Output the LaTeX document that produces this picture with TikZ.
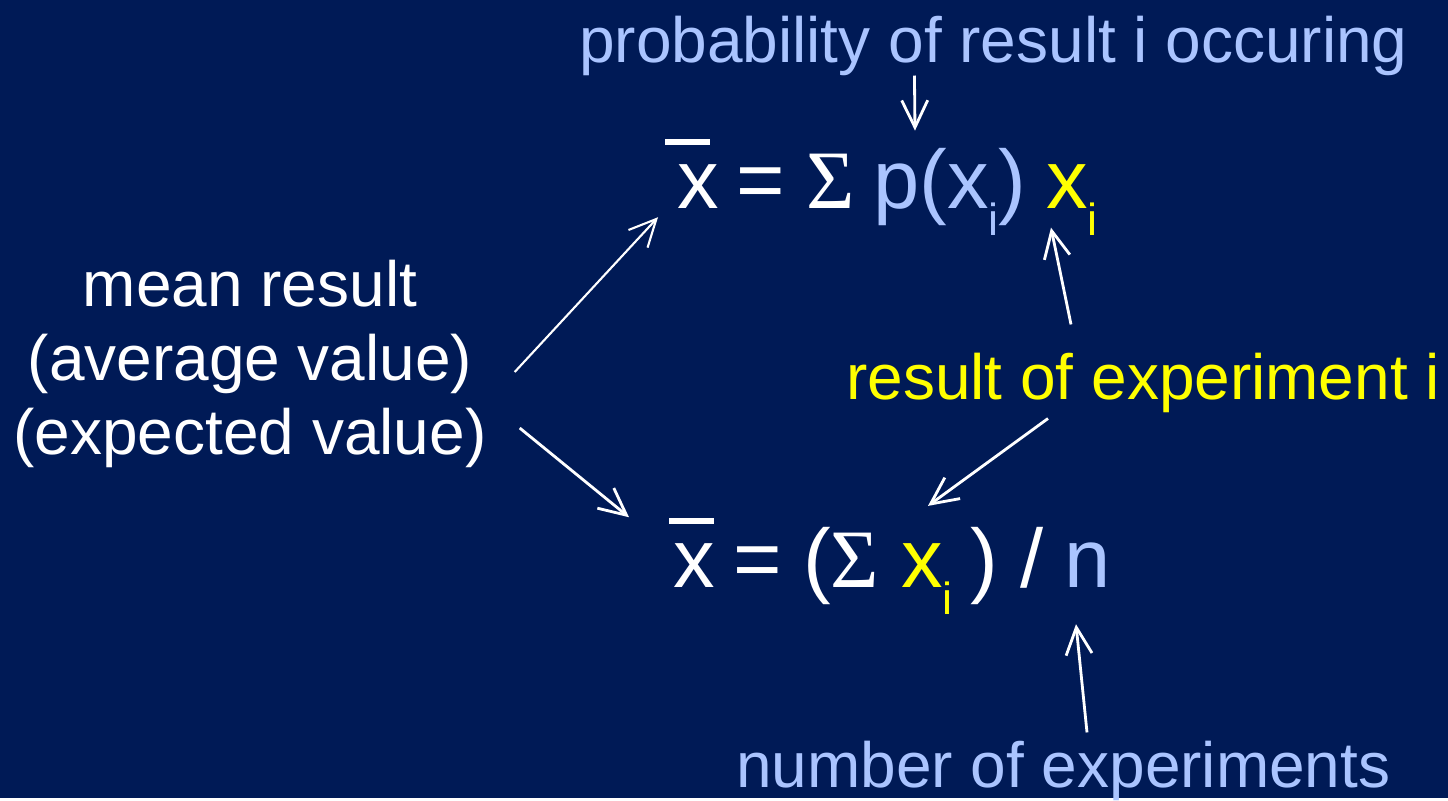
\documentclass[tikz,border=0pt]{standalone}
\usepackage{fontspec}
\setmainfont{Liberation Sans}
\newfontfamily\sigfont{Liberation Serif}
\usepackage{xcolor}
\usepackage{tikz}
\usetikzlibrary{arrows.meta, positioning}
\definecolor{bgblue}{RGB}{0,26,86}
\definecolor{lightblue}{RGB}{170,196,255}
\definecolor{hiyellow}{RGB}{255,255,0}
\newcommand\lowi[1]{\raisebox{-0.33em}{\fontsize{38.4}{38.4}\selectfont #1}}
\newcommand\barx[1]{\rlap{\kern#1\raisebox{0.76em}{\rule{0.54em}{0.065em}}}x}
\tikzset{
    bigtxt/.style={font=\fontsize{54.6}{63.2}\selectfont, inner sep=0pt},
    eqtxt/.style={font=\fontsize{70.9}{80}\selectfont, inner sep=0pt, anchor=base west},
    arrow/.style={-{Straight Barb[length=8.1mm, width=7.8mm]}, line width=2.4pt, white},
}
\begin{document}
\begin{tikzpicture}[x=0.03cm, y=-0.03cm]
    \fill[bgblue] (0,0) rectangle (1448,798);
    % left text
    \node[bigtxt, white, align=center] (mean) at (250,364) {mean result\\(average value)\\(expected value)};
    % upper formula
    \node[eqtxt, white] (xa) at (677,208) {\barx{-0.145em}};
    \node[eqtxt, white] (eqa) at (736,208) {=};
    \node[eqtxt, white] (sa) at (806,208) {\sigfont Σ};
    \node[eqtxt, lightblue] (pa) at (873,208) {p(x\lowi{i})};
    \node[eqtxt, hiyellow] (xia) at (1046,208) {x\lowi{i}};
    % lower formula
    \node[eqtxt, white] (xb) at (673,587) {\barx{-0.05em}};
    \node[eqtxt, white] (eqb) at (733,587) {=};
    \node[eqtxt, white] (sb) at (803,587) {({\sigfont Σ}};
    \node[eqtxt, hiyellow] (xib) at (901,587) {x\lowi{i}};
    \node[eqtxt, white] (rpb) at (970,587) {) /};
    \node[eqtxt, lightblue] (nb) at (1064,587) {n};
    % labels
    \node[bigtxt, lightblue, anchor=base west] (prob) at (579,62) {probability of result i occuring};
    \node[bigtxt, hiyellow, anchor=base west] (res) at (846,399) {result of experiment i};
    \node[bigtxt, lightblue, anchor=base west] (num) at (736,787) {number of experiments};
    % arrows
    \draw[arrow, line width=1.8pt] ([shift={(28,8)}]mean.east) -- ([shift={(-19,9)}]xa.south west);
    \draw[arrow] ([shift={(33,64)}]mean.east) -- ([shift={(-44,-1)}]xb.north west);
    \draw[arrow] ([shift={(-79,0)}]prob.south) -- ([shift={(42,-17)}]pa.north west);
    \draw[arrow] ([shift={(225,-28)}]res.north west) -- ([shift={(5,-8)}]xia.south west);
    \draw[arrow] ([shift={(202,6)}]res.south west) -- ([shift={(27,-37)}]xib.north west);
    \draw[arrow] ([shift={(351,-8)}]num.north west) -- ([shift={(12,37)}]nb.south west);
\end{tikzpicture}
\end{document}
